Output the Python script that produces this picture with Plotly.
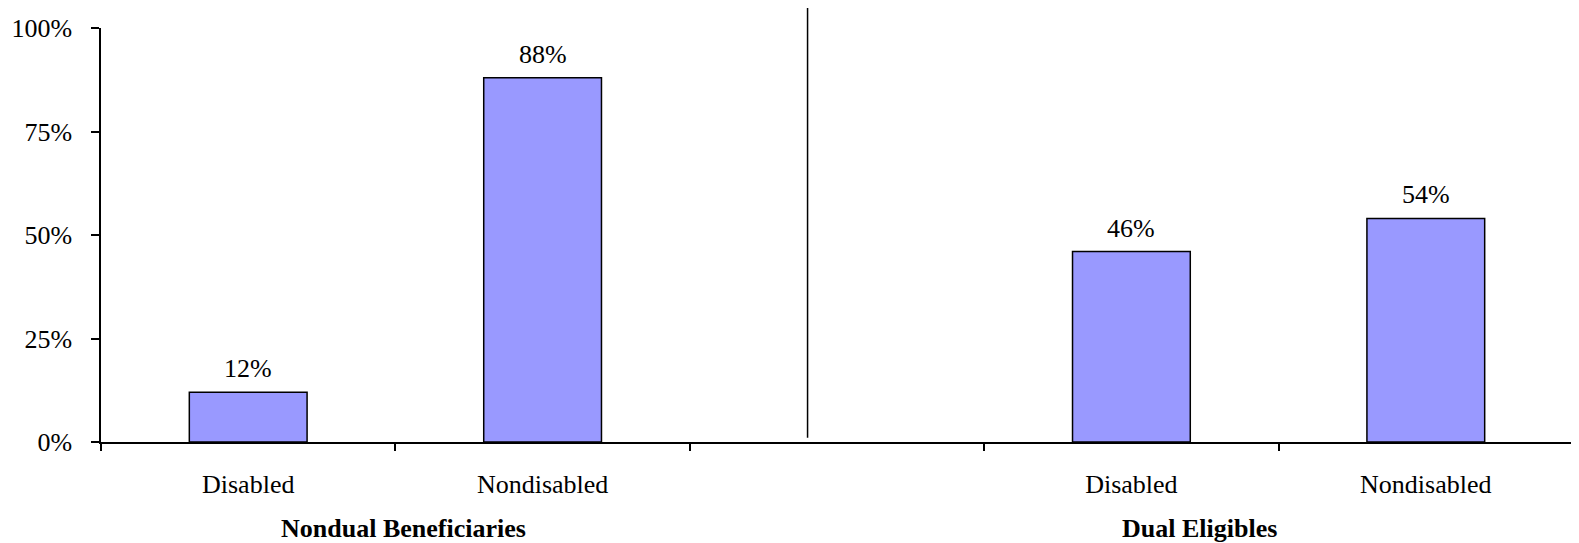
import plotly.graph_objects as go

categories = ["nd_dis", "nd_non", "gap", "de_dis", "de_non"]
tick_labels = ["Disabled", "Nondisabled", "", "Disabled", "Nondisabled"]
bar_cats = ["nd_dis", "nd_non", "de_dis", "de_non"]
values = [12, 88, 46, 54]
value_labels = ["12%", "88%", "46%", "54%"]
group_labels = ["Nondual Beneficiaries", "Dual Eligibles"]
group_pos = [0.526, 3.23]
divider_x = 1.9

FONT = "Liberation Serif, Times New Roman, serif"
FS = 26

fig = go.Figure()
fig.add_trace(go.Bar(
    x=bar_cats, y=values, width=0.4,
    marker=dict(color="#9999FF", line=dict(color="black", width=1.5)),
    hoverinfo="skip",
))

for c, v, t in zip(bar_cats, values, value_labels):
    fig.add_annotation(x=c, y=v, text=t, showarrow=False, yanchor="bottom",
                       yshift=7, font=dict(family=FONT, size=FS, color="black"))

for pos, lab in zip(group_pos, group_labels):
    fig.add_annotation(x=pos, xref="x", y=0, yref="paper", text="<b>" + lab + "</b>",
                       showarrow=False, yanchor="middle", yshift=-86,
                       font=dict(family=FONT, size=FS, color="black"))

fig.add_shape(type="line", xref="x", yref="paper", x0=divider_x, x1=divider_x,
              y0=0.01, y1=1.053, line=dict(color="black", width=1.5))

# page body has an 8px default margin, so the figure is offset by 8px
fig.update_layout(
    width=1571, height=535,
    margin=dict(l=93, r=6, t=20, b=101),
    paper_bgcolor="white", plot_bgcolor="white",
    showlegend=False,
    font=dict(family=FONT, size=FS, color="black"),
    xaxis=dict(
        type="category", categoryorder="array", categoryarray=categories,
        tickmode="array", tickvals=categories, ticktext=tick_labels,
        tickson="boundaries", ticks="outside", ticklen=7, tickwidth=1.5, tickcolor="black",
        showline=True, linecolor="black", linewidth=1.5,
        showgrid=False, zeroline=False, range=[-0.5, 4.5],
        ticklabelstandoff=18, automargin=False,
        tickfont=dict(family=FONT, size=FS, color="black"),
    ),
    yaxis=dict(
        range=[0, 100], tickvals=[0, 25, 50, 75, 100],
        ticktext=["0%", "25%", "50%", "75%", "100%"],
        ticks="outside", ticklen=8, tickwidth=1.5, tickcolor="black",
        showline=True, linecolor="black", linewidth=1.5,
        showgrid=False, zeroline=False,
        ticklabelstandoff=14, automargin=False,
        tickfont=dict(family=FONT, size=FS, color="black"),
    ),
)

fig.write_html("out.html")
